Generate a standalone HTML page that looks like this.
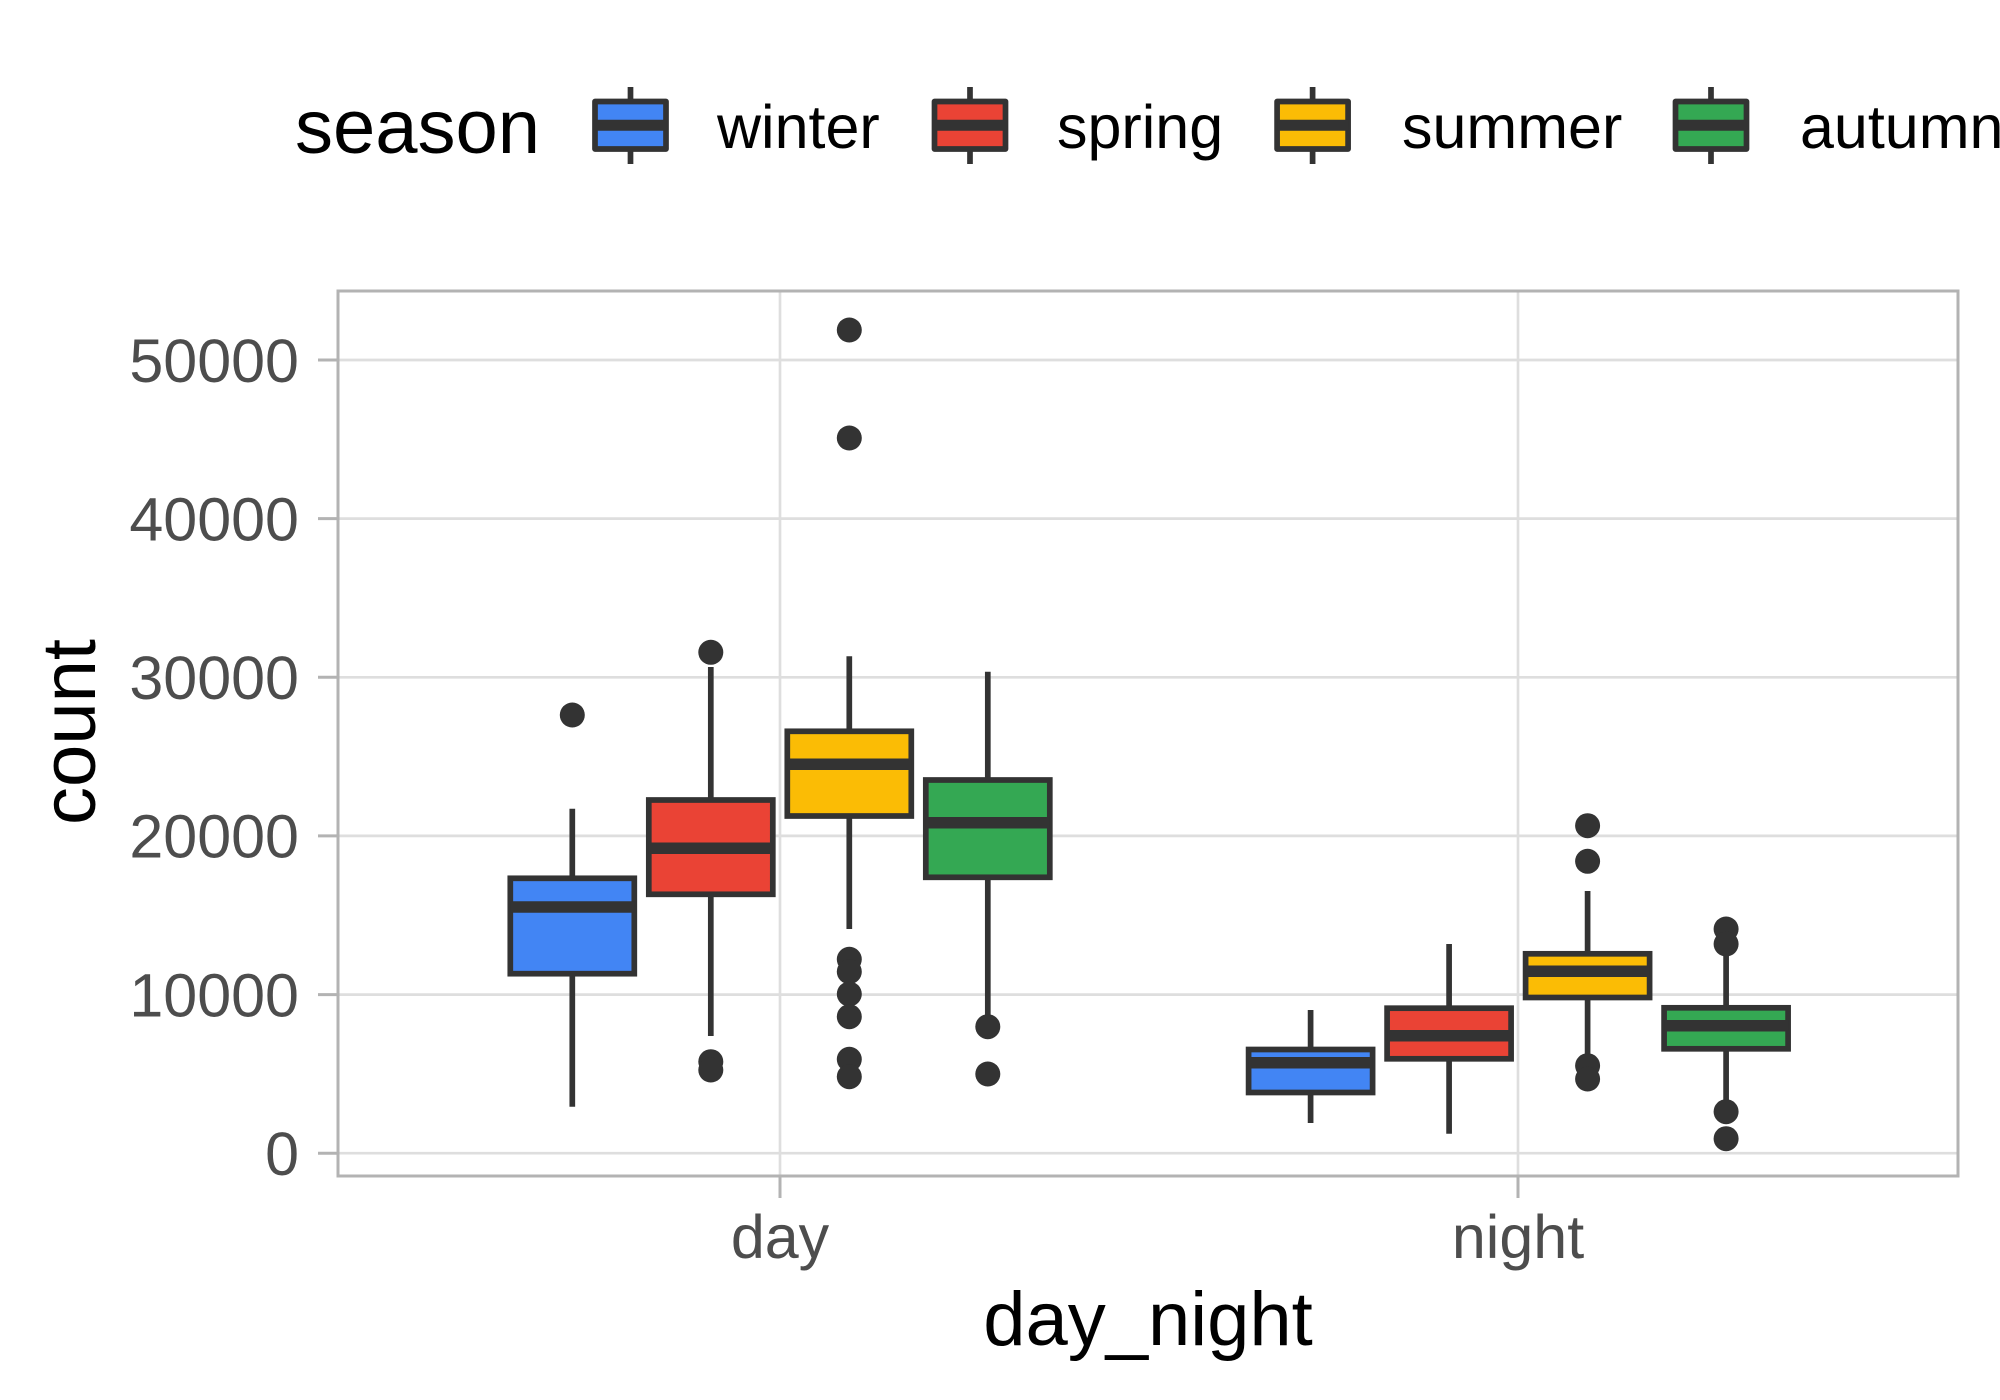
<!DOCTYPE html>
<html>
<head>
<meta charset="utf-8">
<style>
  html, body { margin: 0; padding: 0; background: #ffffff; }
  svg { display: block; }
  text { font-family: "Liberation Sans", Arial, sans-serif; }
</style>
</head>
<body>
<svg width="2000" height="1400" viewBox="0 0 2000 1400" xmlns="http://www.w3.org/2000/svg">
  <rect x="0" y="0" width="2000" height="1400" fill="#ffffff"/>

  <!-- Legend -->
  <text x="295" y="153" font-size="76" fill="#000000">season</text>
  <g stroke="#333333" stroke-width="5.7" stroke-linejoin="round">
    <line x1="630.5" y1="87" x2="630.5" y2="164"/>
    <rect x="595" y="101.5" width="71" height="47.5" fill="#4285F4"/>
    <line x1="595" y1="125.2" x2="666" y2="125.2" stroke-width="11"/>

    <line x1="970" y1="87" x2="970" y2="164"/>
    <rect x="934.5" y="101.5" width="71" height="47.5" fill="#EA4335"/>
    <line x1="934.5" y1="125.2" x2="1005.5" y2="125.2" stroke-width="11"/>

    <line x1="1312.6" y1="87" x2="1312.6" y2="164"/>
    <rect x="1277.1" y="101.5" width="71" height="47.5" fill="#FBBC05"/>
    <line x1="1277.1" y1="125.2" x2="1348.1" y2="125.2" stroke-width="11"/>

    <line x1="1711" y1="87" x2="1711" y2="164"/>
    <rect x="1675.5" y="101.5" width="71" height="47.5" fill="#34A853"/>
    <line x1="1675.5" y1="125.2" x2="1746.5" y2="125.2" stroke-width="11"/>
  </g>
  <text x="717" y="148" font-size="61" fill="#000000">winter</text>
  <text x="1057" y="148" font-size="61" fill="#000000">spring</text>
  <text x="1402" y="148" font-size="61" fill="#000000">summer</text>
  <text x="1800" y="148" font-size="61" fill="#000000">autumn</text>

  <!-- Gridlines -->
  <g stroke="#DEDEDE" stroke-width="2.7">
    <line x1="338" y1="1153.2" x2="1958" y2="1153.2"/>
    <line x1="338" y1="994.6" x2="1958" y2="994.6"/>
    <line x1="338" y1="835.9" x2="1958" y2="835.9"/>
    <line x1="338" y1="677.3" x2="1958" y2="677.3"/>
    <line x1="338" y1="518.6" x2="1958" y2="518.6"/>
    <line x1="338" y1="360" x2="1958" y2="360"/>
    <line x1="780" y1="291" x2="780" y2="1176"/>
    <line x1="1518" y1="291" x2="1518" y2="1176"/>
  </g>

  <!-- Boxplots -->
  <g stroke="#333333" stroke-width="5.7" fill="#333333">
    <!-- DAY winter -->
    <line x1="572.3" y1="808.7" x2="572.3" y2="878.3"/>
    <line x1="572.3" y1="973.7" x2="572.3" y2="1106.7"/>
    <rect x="510.3" y="878.3" width="124" height="95.4" fill="#4285F4"/>
    <line x1="510.3" y1="907" x2="634.3" y2="907" stroke-width="11.5"/>
    <circle cx="572.3" cy="715" r="12.5" stroke="none"/>

    <!-- DAY spring -->
    <line x1="710.8" y1="667" x2="710.8" y2="800"/>
    <line x1="710.8" y1="894.3" x2="710.8" y2="1036"/>
    <rect x="648.8" y="800" width="124" height="94.3" fill="#EA4335"/>
    <line x1="648.8" y1="848.3" x2="772.8" y2="848.3" stroke-width="11.5"/>
    <circle cx="710.8" cy="652.3" r="12.5" stroke="none"/>
    <circle cx="710.8" cy="1061.7" r="12.5" stroke="none"/>
    <circle cx="710.8" cy="1070" r="12.5" stroke="none"/>

    <!-- DAY summer -->
    <line x1="849.3" y1="656.3" x2="849.3" y2="731.3"/>
    <line x1="849.3" y1="816" x2="849.3" y2="929"/>
    <rect x="787.3" y="731.3" width="124" height="84.7" fill="#FBBC05"/>
    <line x1="787.3" y1="764.3" x2="911.3" y2="764.3" stroke-width="11.5"/>
    <circle cx="849.3" cy="330" r="12.5" stroke="none"/>
    <circle cx="849.3" cy="438" r="12.5" stroke="none"/>
    <circle cx="849.3" cy="959.3" r="12.5" stroke="none"/>
    <circle cx="849.3" cy="971.7" r="12.5" stroke="none"/>
    <circle cx="849.3" cy="994" r="12.5" stroke="none"/>
    <circle cx="849.3" cy="1016.7" r="12.5" stroke="none"/>
    <circle cx="849.3" cy="1059.3" r="12.5" stroke="none"/>
    <circle cx="849.3" cy="1076.7" r="12.5" stroke="none"/>

    <!-- DAY autumn -->
    <line x1="987.8" y1="671.7" x2="987.8" y2="780"/>
    <line x1="987.8" y1="877.3" x2="987.8" y2="1015"/>
    <rect x="925.8" y="780" width="124" height="97.3" fill="#34A853"/>
    <line x1="925.8" y1="822.7" x2="1049.8" y2="822.7" stroke-width="11.5"/>
    <circle cx="987.8" cy="1026.7" r="12.5" stroke="none"/>
    <circle cx="987.8" cy="1074" r="12.5" stroke="none"/>

    <!-- NIGHT winter -->
    <line x1="1310.6" y1="1010" x2="1310.6" y2="1049.5"/>
    <line x1="1310.6" y1="1092.5" x2="1310.6" y2="1123"/>
    <rect x="1248.6" y="1049.5" width="124" height="43" fill="#4285F4"/>
    <line x1="1248.6" y1="1062.8" x2="1372.6" y2="1062.8" stroke-width="11.5"/>

    <!-- NIGHT spring -->
    <line x1="1449.1" y1="944" x2="1449.1" y2="1008.2"/>
    <line x1="1449.1" y1="1058.8" x2="1449.1" y2="1133.7"/>
    <rect x="1387.1" y="1008.2" width="124" height="50.6" fill="#EA4335"/>
    <line x1="1387.1" y1="1035.8" x2="1511.1" y2="1035.8" stroke-width="11.5"/>

    <!-- NIGHT summer -->
    <line x1="1587.6" y1="891" x2="1587.6" y2="953.8"/>
    <line x1="1587.6" y1="997.5" x2="1587.6" y2="1058"/>
    <rect x="1525.6" y="953.8" width="124" height="43.7" fill="#FBBC05"/>
    <line x1="1525.6" y1="971.3" x2="1649.6" y2="971.3" stroke-width="11.5"/>
    <circle cx="1587.6" cy="825.7" r="12.5" stroke="none"/>
    <circle cx="1587.6" cy="861.3" r="12.5" stroke="none"/>
    <circle cx="1587.6" cy="1065.7" r="12.5" stroke="none"/>
    <circle cx="1587.6" cy="1079" r="12.5" stroke="none"/>

    <!-- NIGHT autumn -->
    <line x1="1726.1" y1="955" x2="1726.1" y2="1007.8"/>
    <line x1="1726.1" y1="1048.8" x2="1726.1" y2="1108"/>
    <rect x="1664.1" y="1007.8" width="124" height="41" fill="#34A853"/>
    <line x1="1664.1" y1="1025.7" x2="1788.1" y2="1025.7" stroke-width="11.5"/>
    <circle cx="1726.1" cy="929" r="12.5" stroke="none"/>
    <circle cx="1726.1" cy="944" r="12.5" stroke="none"/>
    <circle cx="1726.1" cy="1111.7" r="12.5" stroke="none"/>
    <circle cx="1726.1" cy="1138.7" r="12.5" stroke="none"/>
  </g>

  <!-- Panel border -->
  <rect x="338" y="291" width="1620" height="885" fill="none" stroke="#B3B3B3" stroke-width="3"/>

  <!-- Ticks -->
  <g stroke="#B3B3B3" stroke-width="3">
    <line x1="318" y1="1153.2" x2="338" y2="1153.2"/>
    <line x1="318" y1="994.6" x2="338" y2="994.6"/>
    <line x1="318" y1="835.9" x2="338" y2="835.9"/>
    <line x1="318" y1="677.3" x2="338" y2="677.3"/>
    <line x1="318" y1="518.6" x2="338" y2="518.6"/>
    <line x1="318" y1="360" x2="338" y2="360"/>
    <line x1="780" y1="1176" x2="780" y2="1198"/>
    <line x1="1518" y1="1176" x2="1518" y2="1198"/>
  </g>

  <!-- Y tick labels -->
  <g font-size="61" fill="#4D4D4D" text-anchor="end">
    <text x="299" y="1175">0</text>
    <text x="299" y="1016.4">10000</text>
    <text x="299" y="857.7">20000</text>
    <text x="299" y="699.1">30000</text>
    <text x="299" y="540.4">40000</text>
    <text x="299" y="381.8">50000</text>
  </g>

  <!-- X tick labels -->
  <g font-size="61" fill="#4D4D4D" text-anchor="middle">
    <text x="780" y="1258">day</text>
    <text x="1518" y="1258">night</text>
  </g>

  <!-- Axis titles -->
  <text x="1148" y="1345" font-size="76" fill="#000000" text-anchor="middle">day_night</text>
  <text transform="translate(95,732) rotate(-90)" font-size="76" fill="#000000" text-anchor="middle">count</text>
</svg>
</body>
</html>
